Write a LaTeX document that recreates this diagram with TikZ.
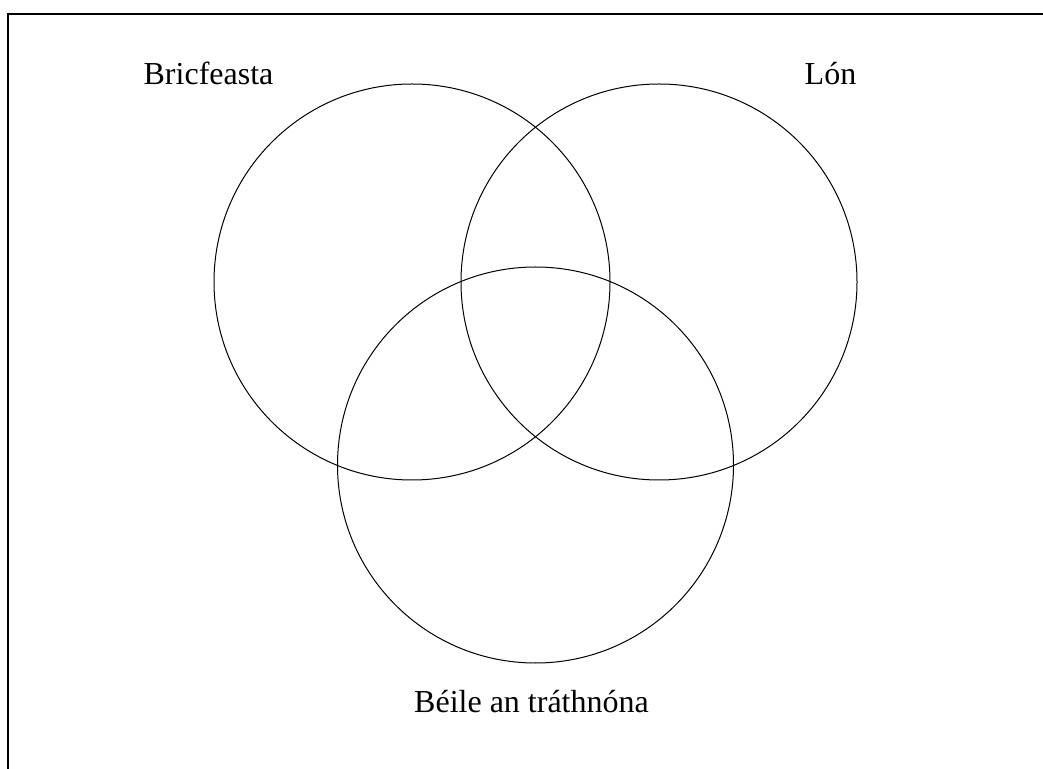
\documentclass[tikz,border=0pt]{standalone}
\usepackage{fontspec}
\setmainfont{Liberation Serif}
\usetikzlibrary{positioning}

\begin{document}
\begin{tikzpicture}[x=0.5pt, y=-0.5pt, main/.style = {draw, circle, line width=0.5pt, minimum size=198pt, inner sep=0pt}, lbl/.style = {anchor=base, inner sep=0pt, font=\fontsize{16}{19}\selectfont}] 
		\useasboundingbox (0,0) rectangle (1043,769);
		\coordinate (fa) at (8,769);
		\coordinate (fb) at (8,14);
		\coordinate (fc) at (1043,14);
		\draw[line width=0.6pt] (fa) -- (fb) -- (fc);
		\node[main] (bric) at (412,282) {}; 
		\node[main] (lon) at (659,282) {}; 
		\node[main] (beile) at (535.5,465) {}; 
		\node[lbl] (t0) at (208.5,85) {Bricfeasta}; 
		\node[lbl] (t1) at (830.5,85) {Lón}; 
		\node[lbl] (t2) at (531.5,712) {Béile an tráthnóna}; 
	\end{tikzpicture}
\end{document}
